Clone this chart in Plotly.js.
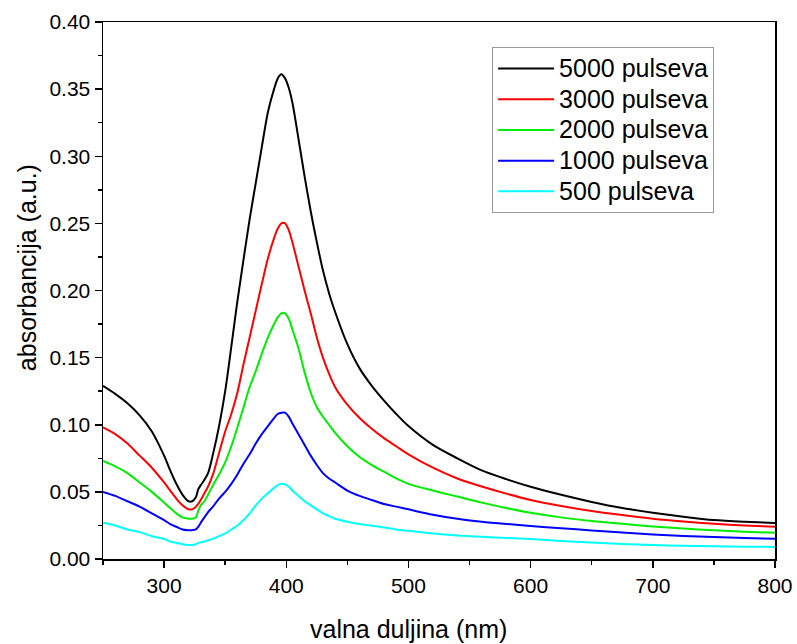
<!DOCTYPE html>
<html>
<head>
<meta charset="utf-8">
<script src="https://cdn.plot.ly/plotly-3.0.1.min.js"></script>
<style>html,body{margin:0;padding:0;background:#fff;}#chart{width:797px;height:644px;}</style>
</head>
<body>
<div id="chart"></div>
<script>
const wavelength = [250,260,270,280,290,300,305,310,315,320,323,326,328,330,333,336,340,345,350,355,360,365,370,375,380,385,390,393,396,399,402,405,410,415,420,425,430,435,440,450,460,470,480,490,500,520,540,560,580,600,625,650,675,700,725,750,775,800];

const p5000 = [0.129,0.123,0.116,0.107,0.095,0.077,0.066,0.056,0.048,0.043,0.043,0.046,0.052,0.055,0.059,0.064,0.078,0.099,0.125,0.158,0.192,0.223,0.253,0.280,0.307,0.333,0.350,0.358,0.361,0.358,0.351,0.340,0.313,0.285,0.259,0.236,0.215,0.198,0.184,0.160,0.142,0.129,0.118,0.108,0.099,0.085,0.075,0.066,0.0595,0.0538,0.0478,0.0425,0.038,0.0345,0.0315,0.029,0.0277,0.0268];
const p3000 = [0.098,0.093,0.086,0.077,0.068,0.057,0.051,0.045,0.040,0.037,0.037,0.039,0.041,0.044,0.049,0.054,0.063,0.079,0.095,0.108,0.124,0.145,0.165,0.185,0.205,0.224,0.239,0.246,0.250,0.250,0.245,0.236,0.218,0.200,0.183,0.165,0.150,0.138,0.128,0.115,0.105,0.097,0.090,0.084,0.078,0.068,0.060,0.054,0.0487,0.044,0.0395,0.0357,0.0327,0.030,0.0279,0.0262,0.0249,0.024];
const p2000 = [0.073,0.069,0.064,0.057,0.050,0.042,0.038,0.034,0.031,0.030,0.030,0.031,0.036,0.040,0.043,0.048,0.055,0.063,0.072,0.084,0.098,0.113,0.128,0.140,0.153,0.165,0.175,0.180,0.183,0.183,0.179,0.171,0.157,0.139,0.124,0.113,0.106,0.100,0.094,0.084,0.076,0.070,0.065,0.060,0.056,0.051,0.0465,0.042,0.038,0.0345,0.031,0.0283,0.0262,0.0243,0.0227,0.0214,0.0203,0.0195];
const p1000 = [0.050,0.047,0.043,0.039,0.034,0.029,0.026,0.024,0.022,0.0215,0.0215,0.022,0.024,0.027,0.031,0.035,0.039,0.045,0.050,0.056,0.063,0.071,0.078,0.086,0.093,0.099,0.105,0.108,0.109,0.109,0.106,0.101,0.093,0.085,0.077,0.070,0.064,0.060,0.057,0.051,0.047,0.044,0.041,0.039,0.037,0.033,0.030,0.0278,0.0261,0.0246,0.0229,0.0213,0.0197,0.0182,0.0172,0.0164,0.0156,0.015];
const p500 = [0.027,0.025,0.022,0.020,0.017,0.015,0.013,0.012,0.011,0.0105,0.0105,0.011,0.012,0.0125,0.013,0.014,0.015,0.017,0.019,0.022,0.025,0.029,0.034,0.040,0.045,0.049,0.053,0.055,0.056,0.0555,0.054,0.051,0.047,0.043,0.040,0.037,0.034,0.032,0.030,0.0277,0.026,0.0248,0.0235,0.022,0.021,0.019,0.0175,0.0165,0.0157,0.0149,0.0135,0.0122,0.0112,0.0104,0.0099,0.0095,0.0092,0.009];

const seriesNames = ['5000 pulseva','3000 pulseva','2000 pulseva','1000 pulseva','500 pulseva'];
const seriesValues = [p5000, p3000, p2000, p1000, p500];
const seriesColors = ['#000000','#ff0000','#00ee00','#0000ff','#00ffff'];

const xTickVals = [300,400,500,600,700,800];
const yTickVals = [0,0.05,0.10,0.15,0.20,0.25,0.30,0.35,0.40];
const xTitle = 'valna duljina (nm)';
const yTitle = 'absorbancija (a.u.)';

const FONT = 'Liberation Sans, Arial, sans-serif';

const traces = seriesNames.map((n,i)=>({
  type:'scatter', mode:'lines',
  name:'<span style="font-size:25px">'+n+'</span>',
  x:wavelength, y:seriesValues[i],
  line:{color:seriesColors[i], width:2, shape:'spline', smoothing:0.8}
}));

const layout = {
  width:797, height:644,
  margin:{l:103, r:22, t:22, b:85},
  paper_bgcolor:'#fff', plot_bgcolor:'#fff',
  font:{family:FONT, color:'#000'},
  showlegend:true,
  legend:{x:0.579, y:0.953, xanchor:'left', yanchor:'top', bgcolor:'#fff', bordercolor:'#999', borderwidth:1,
    font:{family:FONT, size:21.3, color:'#000'}, itemwidth:56, tracegroupgap:0},
  xaxis:{range:[250,800], tickvals:xTickVals, ticks:'outside', ticklen:7, tickwidth:1.5, tickcolor:'#000',
    showline:true, linecolor:'#000', linewidth:1.5, mirror:true, showgrid:false, zeroline:false,
    minor:{dtick:50, tick0:250, ticks:'outside', ticklen:4, tickwidth:1.5, tickcolor:'#000', showgrid:false},
    tickfont:{family:FONT, size:21, color:'#000'}},
  yaxis:{range:[0,0.4], tickvals:yTickVals, tickformat:'.2f', ticks:'outside', ticklen:7, tickwidth:1.5, tickcolor:'#000',
    showline:true, linecolor:'#000', linewidth:1.5, mirror:true, showgrid:false, zeroline:false,
    minor:{dtick:0.025, tick0:0, ticks:'outside', ticklen:4, tickwidth:1.5, tickcolor:'#000', showgrid:false},
    tickfont:{family:FONT, size:21, color:'#000'}},
  annotations:[
    {text:xTitle, xref:'paper', yref:'paper', x:0.455, y:-0.1306, xanchor:'center', yanchor:'middle', showarrow:false,
     font:{family:FONT, size:25, color:'#000'}},
    {text:yTitle, xref:'paper', yref:'paper', x:-0.112, y:0.543, xanchor:'center', yanchor:'middle', showarrow:false, textangle:-90,
     font:{family:FONT, size:25, color:'#000'}}
  ]
};
Plotly.newPlot('chart', traces, layout, {displayModeBar:false, staticPlot:true});
</script>
</body>
</html>
